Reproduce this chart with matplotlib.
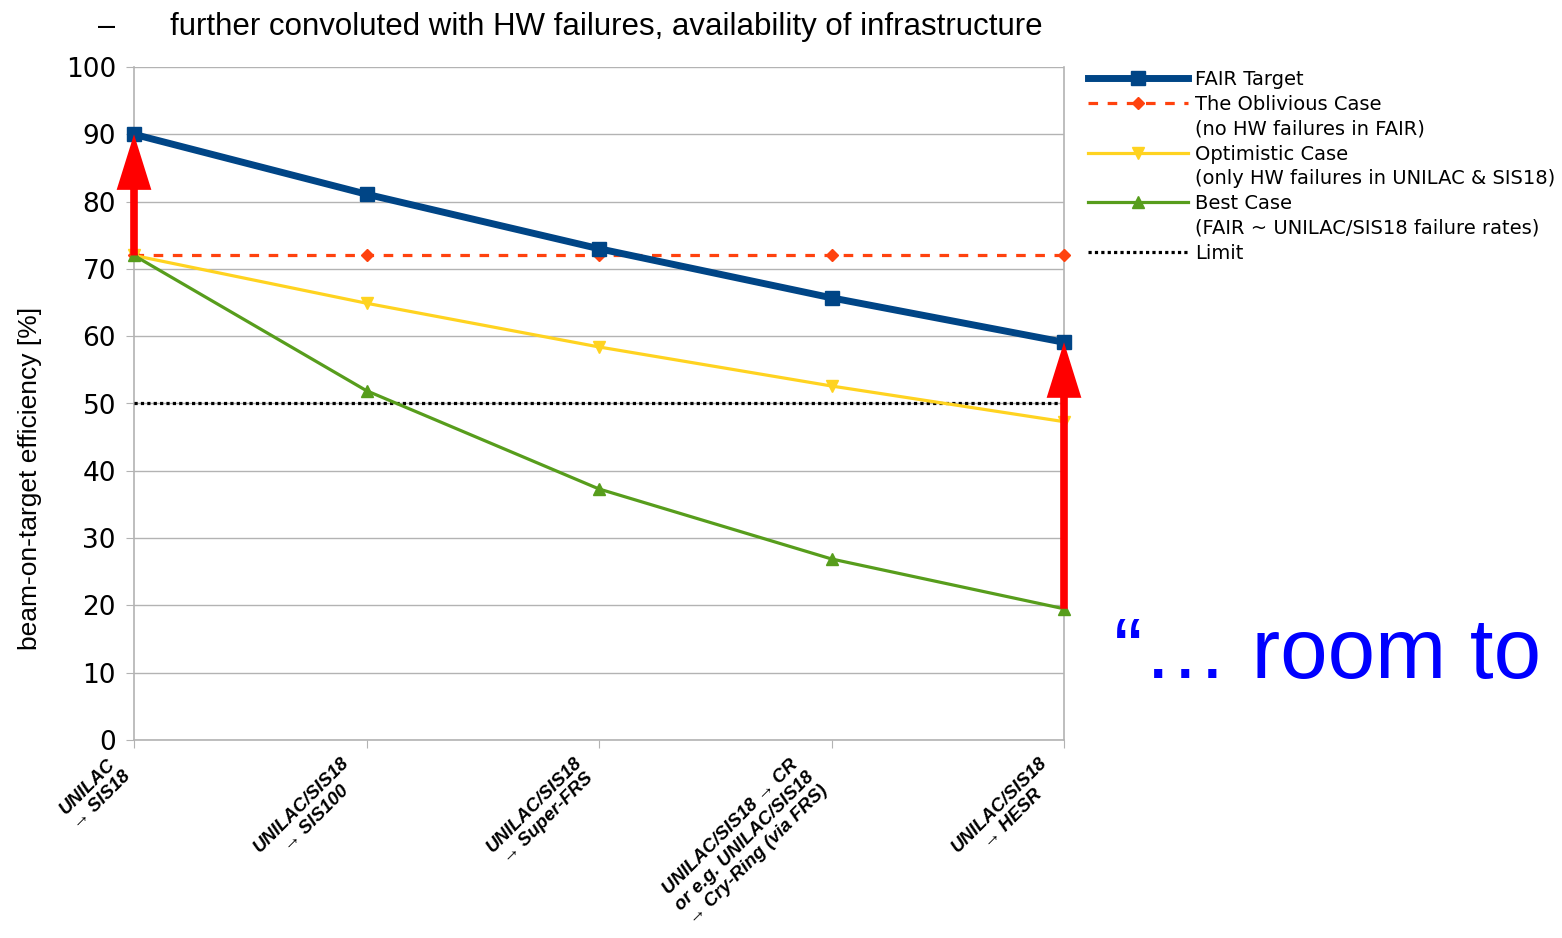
import numpy as np
import matplotlib
matplotlib.use('Agg')
import matplotlib.pyplot as plt
from matplotlib.lines import Line2D

# data
stages = ['UNILAC\n→ SIS18', 'UNILAC/SIS18\n→ SIS100', 'UNILAC/SIS18\n→ Super-FRS',
          'UNILAC/SIS18 → CR\nor e.g. UNILAC/SIS18\n→ Cry-Ring (via FRS)', 'UNILAC/SIS18\n→ HESR']
fair_target = [90, 81.1, 73.0, 65.7, 59.1]
oblivious = [72, 72, 72, 72, 72]
optimistic = [72, 64.9, 58.4, 52.6, 47.3]
best_case = [72, 51.9, 37.3, 26.9, 19.5]
limit = [50, 50, 50, 50, 50]

labels = ['FAIR Target', 'The Oblivious Case', '(no HW failures in FAIR)',
          'Optimistic Case', '(only HW failures in UNILAC & SIS18)',
          'Best Case', '(FAIR ~ UNILAC/SIS18 failure rates)', 'Limit']

x = np.arange(len(stages))
grid_c = '#b3b3b3'

fig = plt.figure(figsize=(15.62, 9.38), dpi=100)
ax = fig.add_axes([134/1562, 1-740/938, (1064-134)/1562, (740-67)/938])

l1, = ax.plot(x, fair_target, color='#004586', lw=5, marker='s', ms=10, clip_on=False, zorder=6)
l2, = ax.plot(x, oblivious, color='#ff420e', lw=2.3, ls=(0, (3, 3)), marker='D', ms=6.5, clip_on=False, zorder=5)
l3, = ax.plot(x, optimistic, color='#ffd320', lw=2.3, marker='v', ms=9, clip_on=False, zorder=5)
l4, = ax.plot(x, best_case, color='#579d1c', lw=2.3, marker='^', ms=9, clip_on=False, zorder=5)
l5, = ax.plot(x, limit, color='black', lw=2.3, ls=(0, (1, 1)), zorder=4)

# red arrows
arw = dict(width=5.5, headwidth=25, headlength=40, shrink=0, color='#ff0000', lw=0)
ax.annotate('', xy=(x[0], fair_target[0]), xytext=(x[0], oblivious[0]), arrowprops=arw, zorder=8, annotation_clip=False)
ax.annotate('', xy=(x[-1], fair_target[-1]), xytext=(x[-1], best_case[-1]), arrowprops=arw, zorder=8, annotation_clip=False)

ax.set_xlim(0, 4)
ax.set_ylim(0, 100)
ax.set_yticks(range(0, 101, 10))
ax.set_xticks(x)
ax.set_xticklabels(stages, rotation=45, ha='right', va='top', multialignment='center', linespacing=1.2,
                   fontsize=13.5, fontweight='bold', fontstyle='italic', family='Liberation Sans')
ax.tick_params(axis='y', labelsize=19, length=6, color=grid_c, pad=7)
ax.tick_params(axis='x', length=6, color=grid_c, pad=4)
ax.grid(axis='y', color=grid_c, lw=1)
for s in ax.spines.values():
    s.set_color(grid_c)
    s.set_linewidth(1.2)
ax.spines['top'].set_visible(False)
ax.set_axisbelow(True)

fig.text(30/1562, 1-478/938, 'beam-on-target efficiency [%]', rotation=90, ha='center', va='center',
         fontsize=19, family='Liberation Sans')
fig.text(107/1562, 1-27/938, '–', ha='center', va='center', fontsize=22, family='Liberation Sans')
fig.text(170/1562, 1-27/938, 'further convoluted with HW failures, availability of infrastructure',
         ha='left', va='center', fontsize=22.5, family='Liberation Sans')
fig.text(1114/1562, 1-678/938, '“… room to', ha='left', va='baseline', fontsize=61.5,
         color='#0000ff', family='Liberation Sans')

blank = Line2D([], [], color='none')
fig.legend([l1, l2, blank, l3, blank, l4, blank, l5], labels,
           loc='upper left', bbox_to_anchor=(1088/1562, 1-70/938), frameon=False, fontsize=14,
           handlelength=5.15, handletextpad=0.35, labelspacing=0.3, borderaxespad=0, borderpad=0)

plt.savefig('out.png', dpi=100)
